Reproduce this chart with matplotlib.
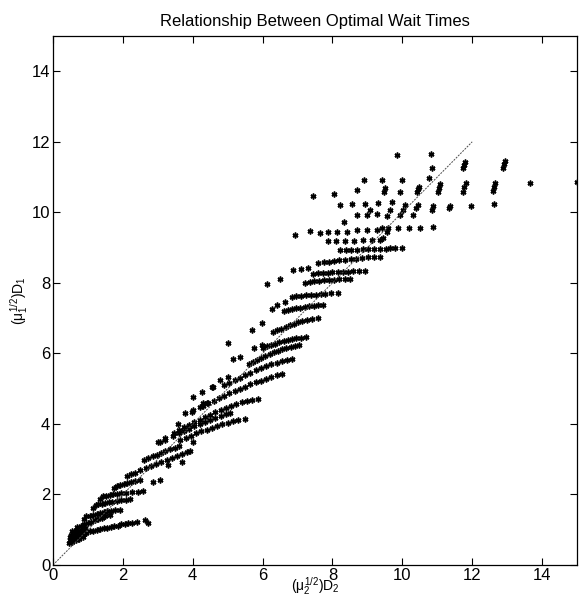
import numpy as np
import matplotlib
matplotlib.use("Agg")
from matplotlib import pyplot as plt

plt.rcParams["font.family"] = ["Liberation Sans", "DejaVu Sans"]
plt.rcParams["mathtext.fontset"] = "custom"
plt.rcParams["mathtext.rm"] = "Liberation Sans"
plt.rcParams["mathtext.it"] = "Liberation Sans"

TITLE = "Relationship Between Optimal Wait Times"
XLABEL = r"$(\mu_2^{1/2})D_2$"
YLABEL = r"$(\mu_1^{1/2})D_1$"
TICKS = [0, 2, 4, 6, 8, 10, 12, 14]

# reference line (equal wait times)
ref_x = [0, 12]
ref_y = [0, 12]

# dense cloud near the origin and the low staircase bands
low_pts = [
    (0.45, 0.62), (0.48, 0.70), (0.50, 0.78), (0.52, 0.85), (0.55, 0.66), (0.58, 0.74),
    (0.60, 0.82), (0.62, 0.90), (0.65, 0.70), (0.68, 0.78), (0.70, 0.86), (0.72, 0.95),
    (0.75, 0.74), (0.78, 0.82), (0.80, 0.90), (0.82, 1.00), (0.85, 0.80), (0.88, 0.88),
    (0.90, 0.96), (0.92, 1.05), (0.55, 0.95), (0.65, 1.00),
    (0.95, 0.92), (1.05, 0.95), (1.15, 0.97), (1.25, 0.99), (1.35, 1.01), (1.45, 1.04),
    (1.55, 1.06), (1.65, 1.08), (1.75, 1.10), (1.85, 1.12), (1.95, 1.15), (2.05, 1.17),
    (2.15, 1.18), (2.25, 1.19), (2.40, 1.22), (2.63, 1.27), (2.73, 1.20),
    (0.70, 1.08), (0.80, 1.12), (0.90, 1.15), (1.00, 1.19), (1.10, 1.23), (1.20, 1.27),
    (1.30, 1.30), (1.40, 1.34), (1.50, 1.38), (1.62, 1.42),
    (0.88, 1.30), (0.95, 1.38), (1.05, 1.40), (1.15, 1.43), (1.25, 1.45), (1.35, 1.47),
    (1.45, 1.50), (1.55, 1.52), (1.65, 1.54), (1.78, 1.55), (1.92, 1.57),
    (1.15, 1.62), (1.22, 1.70), (1.30, 1.72), (1.40, 1.74), (1.50, 1.76), (1.60, 1.78),
    (1.70, 1.79), (1.82, 1.81), (1.95, 1.83), (2.08, 1.85), (2.20, 1.86),
    (1.35, 1.88), (1.42, 1.95), (1.52, 1.97), (1.62, 1.99), (1.72, 2.00), (1.82, 2.02),
    (1.95, 2.03), (2.10, 2.05), (2.25, 2.06), (2.42, 2.08), (2.59, 2.10),
    (1.75, 2.18), (1.82, 2.24), (1.92, 2.27), (2.02, 2.30), (2.12, 2.33), (2.22, 2.36),
    (2.35, 2.39), (2.49, 2.42),
    (2.12, 2.52), (2.22, 2.58), (2.35, 2.62), (2.50, 2.68), (2.65, 2.74), (2.80, 2.80),
    (2.95, 2.86), (3.10, 2.92), (3.25, 2.98), (3.40, 3.04), (3.55, 3.09), (3.70, 3.14),
    (3.85, 3.19), (3.92, 3.22),
]

# middle staircase bands
mid_pts = [
    (2.60, 2.98), (2.72, 3.03), (2.85, 3.08), (2.98, 3.13), (3.10, 3.18), (3.22, 3.23),
    (3.35, 3.28), (3.48, 3.33), (3.60, 3.38),
    (3.45, 3.75), (3.60, 3.83), (3.75, 3.91), (3.90, 3.98), (4.05, 4.05), (4.20, 4.12),
    (4.35, 4.19), (4.50, 4.26), (4.65, 4.33), (4.80, 4.40), (4.95, 4.46), (5.10, 4.52),
    (5.25, 4.57), (5.40, 4.61), (5.55, 4.65), (5.70, 4.68), (5.88, 4.71),
    (3.44, 3.66), (3.60, 3.73), (3.75, 3.80), (3.90, 3.87), (4.05, 3.94), (4.20, 4.00),
    (4.35, 4.06), (4.50, 4.12), (4.65, 4.17), (4.80, 4.22), (4.95, 4.27), (5.07, 4.30),
    (3.64, 3.55), (3.80, 3.61), (3.95, 3.67), (4.10, 3.73), (4.25, 3.79), (4.40, 3.84),
    (4.55, 3.89), (4.70, 3.94), (4.85, 3.99), (5.00, 4.03), (5.15, 4.07), (5.30, 4.11),
    (5.50, 4.15),
    (4.30, 4.50), (4.45, 4.58), (4.60, 4.66), (4.75, 4.73), (4.90, 4.80), (5.05, 4.87),
    (5.20, 4.94), (5.35, 5.00), (5.50, 5.06), (5.65, 5.12), (5.80, 5.18), (5.95, 5.23),
    (6.10, 5.28), (6.25, 5.33), (6.40, 5.38), (6.55, 5.42),
    (4.90, 5.10), (5.05, 5.17), (5.20, 5.24), (5.35, 5.31), (5.50, 5.38), (5.65, 5.45),
    (5.80, 5.52), (5.95, 5.58), (6.10, 5.64), (6.25, 5.69), (6.40, 5.74), (6.55, 5.78),
    (6.70, 5.82), (6.85, 5.85),
    (5.60, 5.70), (5.72, 5.76), (5.84, 5.82), (5.96, 5.88), (6.08, 5.94), (6.20, 5.99),
    (6.32, 6.04), (6.44, 6.08), (6.56, 6.12), (6.68, 6.16), (6.80, 6.19), (6.93, 6.22),
    (7.05, 6.24),
    (6.00, 6.15), (6.12, 6.20), (6.24, 6.24), (6.36, 6.28), (6.48, 6.32), (6.60, 6.35),
    (6.72, 6.38), (6.84, 6.41), (6.96, 6.43), (7.10, 6.45), (7.25, 6.47),
    (6.30, 6.60), (6.42, 6.65), (6.54, 6.70), (6.66, 6.75), (6.78, 6.80), (6.90, 6.84),
    (7.02, 6.88), (7.14, 6.91), (7.26, 6.94), (7.40, 6.97), (7.58, 6.99),
]

# upper staircase bands
high_pts = [
    (6.60, 7.20), (6.72, 7.23), (6.84, 7.26), (6.96, 7.28), (7.08, 7.30), (7.20, 7.32),
    (7.32, 7.34), (7.46, 7.35), (7.60, 7.36), (7.74, 7.37),
    (6.83, 7.60), (6.96, 7.62), (7.10, 7.64), (7.24, 7.65), (7.38, 7.66), (7.52, 7.67),
    (7.66, 7.68), (7.80, 7.69), (7.96, 7.70), (8.15, 7.71),
    (7.22, 8.00), (7.35, 8.02), (7.48, 8.04), (7.62, 8.06), (7.76, 8.07), (7.90, 8.08),
    (8.04, 8.09), (8.20, 8.10), (8.35, 8.11), (8.50, 8.12),
    (7.45, 8.26), (7.58, 8.27), (7.72, 8.28), (7.86, 8.29), (8.00, 8.30), (8.15, 8.31),
    (8.30, 8.32), (8.45, 8.32), (8.60, 8.33), (8.76, 8.33), (8.93, 8.34),
    (7.60, 8.55), (7.75, 8.58), (7.90, 8.60), (8.05, 8.62), (8.20, 8.64), (8.36, 8.66),
    (8.52, 8.68), (8.68, 8.69), (8.85, 8.71), (9.02, 8.72), (9.20, 8.73), (9.36, 8.74),
    (8.22, 8.92), (8.38, 8.93), (8.54, 8.94), (8.70, 8.94), (8.86, 8.95), (9.02, 8.95),
    (9.18, 8.96), (9.36, 8.97), (9.52, 8.97), (9.65, 8.98), (9.80, 8.98), (9.98, 8.98),
]

# sparse markers scattered around the bands
sparse_pts = [
    (2.87, 2.36), (3.06, 2.41), (3.30, 2.83), (3.68, 2.93), (4.02, 3.49),
    (3.02, 3.49), (3.21, 3.54), (3.07, 3.50), (3.21, 3.59), (3.59, 4.01),
    (3.78, 4.30), (3.97, 4.35), (4.02, 4.39), (4.02, 4.77), (4.21, 4.49),
    (4.26, 4.91), (4.40, 4.58), (4.30, 4.58), (4.55, 5.05), (4.59, 5.05),
    (4.78, 5.24), (5.02, 5.33), (5.02, 6.30), (5.16, 5.85), (5.35, 5.90),
    (5.69, 6.66), (5.74, 6.14), (5.98, 6.23), (5.98, 6.85), (6.12, 7.98),
    (6.26, 7.27), (6.40, 7.37), (6.50, 8.12), (6.64, 7.46), (6.88, 8.36),
    (7.10, 8.40), (7.30, 8.42),
    (6.93, 9.35), (7.36, 9.46), (7.63, 9.40), (7.88, 9.44), (8.12, 9.44),
    (8.41, 9.44), (8.69, 9.49), (8.98, 9.51), (9.27, 9.51), (9.41, 9.55),
    (9.60, 9.55), (9.55, 9.45), (9.88, 9.55), (10.20, 9.55), (10.50, 9.55),
    (10.89, 9.58),
    (7.88, 9.19), (8.10, 9.19), (8.35, 9.20), (8.62, 9.20), (8.88, 9.21),
    (9.12, 9.21), (9.36, 9.21), (9.44, 9.26),
    (8.33, 9.73), (8.69, 9.92), (9.00, 9.92), (9.27, 9.96), (9.55, 9.91),
    (9.93, 9.92), (10.31, 9.92),
    (8.22, 10.20), (8.55, 10.23), (8.93, 10.25), (9.31, 10.26), (9.70, 10.29),
    (9.65, 10.07), (10.08, 10.21), (10.01, 10.07), (10.46, 10.21), (10.39, 10.11),
    (10.89, 10.18), (10.84, 10.07), (11.36, 10.18), (11.34, 10.11), (11.96, 10.18),
    (12.63, 10.23), (9.08, 10.08),
    (7.45, 10.45), (8.03, 10.53), (8.69, 10.62), (9.50, 10.68), (9.47, 10.58),
    (9.93, 10.58), (10.49, 10.73), (10.46, 10.65), (10.43, 10.58), (11.08, 10.80),
    (11.05, 10.69), (11.03, 10.58), (11.82, 10.84), (11.77, 10.71), (11.73, 10.58),
    (12.65, 10.84), (12.62, 10.72), (12.59, 10.60), (13.65, 10.84), (14.99, 10.87),
    (8.89, 10.91), (9.41, 10.93), (10.00, 10.93), (10.77, 10.96),
    (9.84, 11.62), (10.82, 11.64), (10.86, 11.25),
    (11.79, 11.42), (11.77, 11.34), (11.75, 11.25),
    (12.94, 11.46), (12.92, 11.36), (12.89, 11.26),
]

fig = plt.figure(figsize=(5.79, 5.99), dpi=100)
ax = fig.add_axes([53 / 579, 34 / 599, 524 / 579, 529 / 599])

star = (6, 2, 0)
for pts in (low_pts, mid_pts, high_pts, sparse_pts):
    arr = np.array(pts)
    ax.plot(arr[:, 0], arr[:, 1], linestyle="none", marker=star, markersize=4.2,
            markeredgewidth=1.1, color="black")

ax.plot(ref_x, ref_y, color="0.3", linewidth=0.7, linestyle=(0, (2, 1.2)))

ax.set_xlim(0, 15)
ax.set_ylim(0, 15)
ax.set_xticks(TICKS)
ax.set_yticks(TICKS)
ax.tick_params(direction="in", top=True, right=True, length=5, width=0.8,
               labelsize=12, pad=2)
for s in ax.spines.values():
    s.set_linewidth(0.9)

ax.set_title(TITLE, fontsize=12, pad=7)
# x label sits right under the tick labels, kept inside the figure
fig.text(315 / 579, 2 / 599, XLABEL, fontsize=10, ha="center", va="bottom")
ax.set_ylabel(YLABEL, fontsize=10, labelpad=1)

fig.savefig("out.png", dpi=100)
